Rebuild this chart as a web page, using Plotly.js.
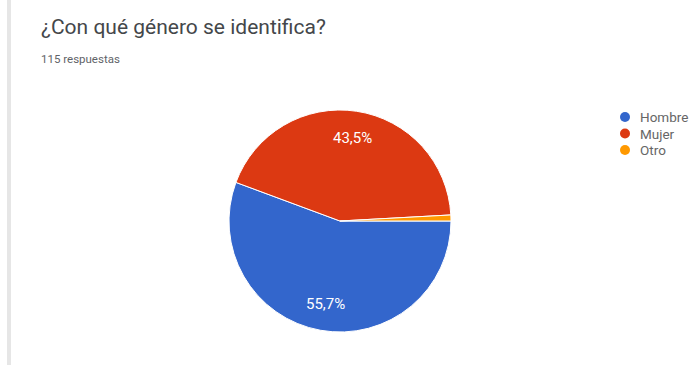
<!DOCTYPE html>
<html>
<head>
<meta charset="utf-8">
<script src="https://cdn.plot.ly/plotly-3.0.1.min.js"></script>
<style>html,body{margin:0;padding:0;background:#fff;}#chart{width:691px;height:365px;}</style>
</head>
<body>
<div id="chart"></div>
<script>
const labels = ["Hombre", "Mujer", "Otro"];
const counts = [64, 50, 1];
const sliceText = ["55,7%", "43,5%", ""];
const colors = ["#3366cc", "#dc3912", "#ff9900"];
const titleText = "¿Con qué género se identifica?";
const subtitleText = "115 respuestas";

const W = 691, H = 365;
const CX = 340, CY = 221, R = 111;       // pie centre / radius in px
const LABEL_R = 0.757;                   // label distance as fraction of radius
const FONT = "Roboto, Arial, sans-serif";

const data = [{
  type: "pie",
  labels: labels,
  values: counts,
  textinfo: "none",
  sort: false,
  direction: "clockwise",
  rotation: 90,
  marker: {colors: colors, line: {color: "#ffffff", width: 1}},
  showlegend: false,
  hoverinfo: "none",
  domain: {x: [(CX - R) / W, (CX + R) / W], y: [(H - CY - R) / H, (H - CY + R) / H]}
}];

// slice labels placed along each slice's bisector (angles derived from the data)
const total = counts.reduce((a, b) => a + b, 0);
const annotations = [];
let cum = 0;
counts.forEach((v, i) => {
  const midFrac = (cum + v / 2) / total;
  cum += v;
  if (!sliceText[i]) return;
  const ang = -midFrac * 2 * Math.PI; // start at 3 o'clock, clockwise
  const px = CX + LABEL_R * R * Math.cos(ang);
  const py = CY - LABEL_R * R * Math.sin(ang);
  annotations.push({
    text: sliceText[i], xref: "paper", yref: "paper", x: px / W, y: 1 - py / H,
    xanchor: "center", yanchor: "middle", showarrow: false,
    font: {family: FONT, size: 15, color: "#ffffff"}
  });
});

// title + subtitle
annotations.push(
  {text: titleText, xref: "paper", yref: "paper", x: 39 / W, y: 1 - 13 / H, xanchor: "left", yanchor: "top",
   showarrow: false, font: {family: FONT, size: 21, color: "#44474a"}},
  {text: subtitleText, xref: "paper", yref: "paper", x: 39 / W, y: 1 - 50 / H, xanchor: "left", yanchor: "top",
   showarrow: false, font: {family: FONT, size: 11.5, color: "#5f6368"}}
);

// legend (circle markers, Google Forms style)
const shapes = [
  {type: "line", xref: "paper", yref: "paper", x0: 9 / W, x1: 9 / W, y0: 0, y1: 1,
   line: {color: "#e6e6e6", width: 4}}
];
const LEG_X = 625, LEG_Y0 = 117, LEG_DY = 16.5;
labels.forEach((l, i) => {
  const y = LEG_Y0 + i * LEG_DY;
  shapes.push({
    type: "circle", xref: "paper", yref: "paper", xsizemode: "pixel", ysizemode: "pixel",
    xanchor: LEG_X / W, yanchor: 1 - y / H, x0: -5, x1: 5, y0: -5, y1: 5,
    fillcolor: colors[i], line: {width: 0}
  });
  annotations.push({
    text: l, xref: "paper", yref: "paper", x: 638 / W, y: 1 - y / H, xanchor: "left", yanchor: "middle",
    showarrow: false, font: {family: FONT, size: 13.5, color: "#666666"}
  });
});

const layout = {
  width: W, height: H,
  margin: {l: 0, r: 0, t: 0, b: 0},
  paper_bgcolor: "#ffffff", plot_bgcolor: "rgba(0,0,0,0)",
  showlegend: false,
  annotations: annotations,
  shapes: shapes
};

Plotly.newPlot("chart", data, layout, {staticPlot: true, displayModeBar: false});
</script>
</body>
</html>
